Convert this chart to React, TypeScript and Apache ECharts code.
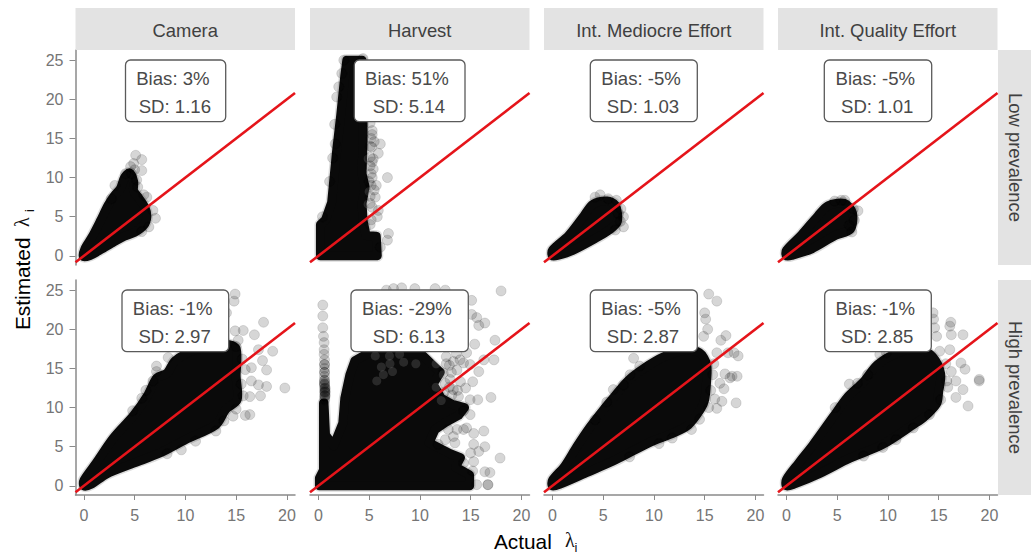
import React, { useEffect, useRef } from "react";
import * as echarts from "echarts";

type P = [number, number];

const columns = ["Camera", "Harvest", "Int. Mediocre Effort", "Int. Quality Effort"];
const rows = ["Low prevalence", "High prevalence"];
const tickValues = [0, 5, 10, 15, 20];
const yTickValues = [0, 5, 10, 15, 20, 25];
const identityLine: P[] = [[-0.83, -0.83], [20.8, 20.8]];

const biasLabels = [["Bias: 3%", "Bias: 51%", "Bias: -5%", "Bias: -5%"], ["Bias: -1%", "Bias: -29%", "Bias: -5%", "Bias: -1%"]];
const sdLabels = [["SD: 1.16", "SD: 5.14", "SD: 1.03", "SD: 1.01"], ["SD: 2.97", "SD: 6.13", "SD: 2.87", "SD: 2.85"]];

// Dense mass of overplotted points: outline (actual, estimated)
const cameraLowMass: P[] = [[-0.05,-0.1],[0.1,0.9],[0.8,2.4],[1.6,4.4],[2.4,6.5],[3.0,7.7],[3.6,8.6],[4.0,10],[4.5,10.6],[4.9,9.5],[4.9,8.3],[5.4,7.4],[6.0,6.2],[6.2,5.0],[5.9,3.9],[5.0,3.0],[3.8,2.4],[2.7,1.6],[1.4,0.6],[0.6,0.05]];
const harvestLowMass: P[] = [[0.2,0],[0.2,4],[0.7,4.6],[1.3,6.8],[1.8,13.5],[2.2,18],[2.6,23],[2.8,25],[4.3,25],[4.4,16.9],[4.4,14.8],[4.3,10.5],[4.6,8.8],[4.3,6.7],[4.4,4.5],[4.7,2.6],[5.7,2.5],[5.8,0]];
const mediocreLowMass: P[] = [[0,0],[0,0.7],[1.6,2.6],[3.1,5.1],[4,6.6],[5.4,7],[6.2,6.5],[6.4,4.4],[5.7,3.4],[4.2,2.2],[2,0.7],[0.5,0.05]];
const qualityLowMass: P[] = [[0,0],[0,0.7],[1.5,2.7],[3.1,5.1],[4.1,6.4],[5.7,6.7],[6.5,5.5],[6.3,3.4],[4.8,2.6],[2.5,0.9],[0.5,0.05]];
const cameraHighMass: P[] = [[0,0],[0,0.7],[1.2,2.9],[2.9,6.1],[4.9,9],[6.3,11.6],[7.2,13.8],[8.2,14.4],[9,16],[11,17.4],[14,18.1],[15,17.5],[15,14],[15.1,11],[14,9.8],[13,7.8],[10,5.9],[7.5,4.2],[4.9,2.9],[2.2,1.5],[0.7,0.2]];
const harvestHighMass: P[] = [[0.1,0],[0.1,1],[0.5,2],[0.5,10.6],[0.55,10.6],[0.7,6.5],[1.5,5.1],[2.4,8],[2.6,11.2],[3.1,14.2],[3.6,16],[5,17],[7,17],[10,17],[11.2,15.5],[12,14.5],[11.3,13],[12.1,11.2],[13.2,10.4],[14.4,10],[13.8,9],[12.5,8.1],[11.5,7.2],[10.9,5.5],[13,4.1],[14,3.6],[13.5,2.4],[14.9,1.4],[14.9,0]];
const mediocreHighMass: P[] = [[0,0],[0,0.7],[1.2,2.5],[2.4,5],[3.7,7.5],[5.2,10],[6.1,11.4],[7.5,13.5],[9,15],[11,16.5],[13,17.3],[14.5,17],[15.2,15.5],[15.2,13.5],[15,11],[14.6,9.8],[13.4,7.8],[12,6.8],[9.5,5.5],[6.2,3.3],[3.2,1.6],[0.7,0.2]];
const qualityHighMass: P[] = [[0,0],[0,0.8],[1.2,2.9],[2.6,5.2],[4.6,8.8],[6,11.3],[7.6,13.3],[9,15.5],[11,17],[13,17.5],[14.4,16.5],[15.2,14.3],[15,12],[14.8,10.5],[13.5,8.7],[12.6,7.9],[9.5,5.3],[6.2,3.5],[3.3,1.6],[0.7,0.2]];

// Individually visible points at the edge of each mass
const cameraLowPoints: P[] = [[5.1,12.85],[5.7,12.3],[4.9,11.8],[5.7,10.9],[4.1,10.5],[3.05,9],[6.2,7.5],[6.8,5.8],[7.05,4.8],[6.4,3.7],[5.7,3.1],[2.7,7.3],[4.7,10.5],[5.2,9.7],[5,11],[4.6,11.4],[5.3,8.8],[5.9,7.8]];
const harvestLowPoints: P[] = [[6.1,14.3],[5.9,13.1],[6.8,10],[5.7,9],[5.1,12.6],[5.25,13.9],[5.4,11.1],[5.6,7.5],[5.1,6.7],[5.9,5.8],[5.8,5],[6.9,2.85],[6.8,2],[6.1,1.1],[1.8,20.3],[1.65,14.3],[4.4,25.2],[2.5,25],[2.3,23.3],[2,21.6],[5.3,15.5],[5.1,17],[5.3,10],[5.5,8.4],[5.2,9],[5.4,12.4],[1.6,16.8],[1.4,12.5],[1.1,9.5],[0.4,5],[5.3,16],[5.2,15],[5.5,14.6],[5.1,14],[5.3,12],[5.1,11.5],[5.2,10.5],[5,9.5],[5.1,7.6],[5.3,6.2],[5.2,4.6],[5.1,4]];
const mediocreLowPoints: P[] = [[4.7,7.8],[4.2,7.5],[7,3.7],[7,5],[6.75,6],[6.3,7.1],[5.5,7.3],[6.5,5.4],[6.7,4.4],[6.2,3.3]];
const qualityLowPoints: P[] = [[7.05,5.75],[6.45,3.05],[5.75,7.1],[4.75,7],[6.7,4.55],[6.2,3.9],[6.6,6],[5.4,7.1]];
const cameraHighPoints: P[] = [[14.9,24.5],[14.8,23.6],[14.05,22.1],[15.7,19.85],[14.9,19.8],[17.7,20.9],[16.8,19.3],[18.6,17.2],[17.2,17.4],[17.6,16],[18,14.8],[16.5,15.1],[15.9,14.85],[18,12.7],[19.8,12.5],[16.5,13.4],[17.2,12.9],[17.4,11.5],[16.35,11.4],[16.35,9.1],[15.9,9],[9.6,4.6],[13,7],[14.7,8.9],[7.15,15.3],[7.15,14.6],[8.3,16.4],[6.8,13.4],[15,17.8],[15.2,18.6],[15.6,16.2],[15.5,13],[15.7,11.5],[15,9.8],[13.8,8.3],[11,5.7],[8.2,4.1],[4.8,9.6],[5.7,11.2],[6.1,12.2]];
const harvestHighPoints: P[] = [[6.7,25],[7.4,25.2],[8.2,25.3],[9.5,25.2],[11.5,25.2],[12.5,25],[15.1,23.7],[18,24.9],[15.1,21.9],[15.6,21.5],[15.8,20.5],[16.4,20.8],[15.4,18.1],[17.4,18.6],[16.3,16.1],[17.3,16.1],[15.8,14.6],[15.2,13.3],[14,13.3],[14.3,15.7],[14.95,15.5],[13.3,15.9],[13.95,16.1],[13.65,14.8],[12.97,13.6],[13.3,12.3],[13.15,11.6],[12.3,14.4],[14.95,11],[15.7,11],[17,11.3],[14.3,9.6],[14.95,9.1],[14.6,7.4],[14.3,7.2],[15.3,6.7],[16.3,7],[13.3,6.3],[12.5,5.9],[11.8,5.3],[15.3,5.3],[16.4,5],[15.8,4.4],[15,4.2],[17.9,3.55],[15.3,3.1],[14.3,2.9],[15.2,1.9],[16.4,1.8],[16.9,1.7],[16.7,0.15],[16.7,0.15],[15.6,0.15],[13.65,7.2],[12.8,7.2],[13.45,5.5],[12.5,13.1],[13.6,16.9],[14.6,17],[12.6,16.5],[12.9,15.4],[12.6,15.6],[13.1,14.5],[12.4,12],[12.9,12.6],[13.7,12.2],[14.5,12.5],[13.8,11.4],[0.43,23.1],[0.43,21.7],[0.43,20.2],[0.5,19.1],[0.56,18.3],[0.56,17.4],[0.56,16.8],[0.6,16.1],[0.6,15.5],[0.6,15],[0.6,14.5],[0.6,14],[0.6,13.5],[0.6,13],[0.65,12.5],[0.65,12],[0.65,11.5],[0.6,15.5],[0.6,14.5],[0.6,13.5],[0.6,13],[0.65,12.5],[0.65,12],[0.65,11.5],[0.6,13.2],[0.6,12.8],[0.65,12.2],[0.65,11.8],[0.62,11.2],[0.62,11],[0.62,11.5],[0.62,12.4],[0.62,12]];
const mediocreHighPoints: P[] = [[15.4,24.5],[16.2,23.6],[15,22.1],[15.1,21.3],[15.3,20],[14.9,19.1],[17.1,19.2],[16.6,18.6],[17.3,17],[18.3,16.6],[17.9,17],[16.2,17],[8,16.3],[7.65,14.2],[6,12.3],[5.35,10.7],[4.2,8.45],[18.2,14],[17.7,14],[17,14.3],[17.5,13.8],[16.5,13.1],[16.9,12.4],[16,11.1],[16.7,10.8],[16.2,9.9],[18.1,10.6],[13.7,7.2],[11.8,6.1],[15.9,15.6],[15.8,14.2],[15.6,12.2],[15.4,10],[14.5,8.5],[10.5,5.4],[7.6,3.7],[7,12.9],[8.6,15.3]];
const qualityHighPoints: P[] = [[14.45,22.1],[14.5,21.3],[14.6,20.2],[14.8,19.1],[16.2,20.9],[16.1,20.4],[16.25,19.3],[17.4,19.3],[16.1,17.4],[15.1,17.2],[17.6,14.9],[17.2,15.7],[19,13.6],[19,13.4],[17.4,12.3],[16.7,11.3],[17.9,10.2],[6.2,13],[4.8,10],[8,14.2],[12.5,7.4],[9.5,4.9],[16.7,13.4],[16.25,14.6],[14.1,9.1],[9.2,16.8],[9.85,17],[15.7,15.6],[15.9,12.6],[15.2,11],[15.8,13.4],[10.8,5.9],[7.6,3.8],[7,13.1]];

// Thin spots inside the mass where the background shows through
const harvestHighGaps: P[] = [[5.75,13.4],[6.4,14.2],[7.05,15.6],[8.4,15.8],[7.3,14.6],[6.2,15.2],[9.6,15.6],[7,16.6],[8,16.8],[5.6,16.6],[11.6,15.6],[12.3,14.2],[11.6,12.6],[12.1,10.9]];
const harvestLowGaps: P[] = [[4.9,6.6],[4.9,12.4],[5,8.2]];
const noGaps: P[] = [];

const masses = [[cameraLowMass, harvestLowMass, mediocreLowMass, qualityLowMass], [cameraHighMass, harvestHighMass, mediocreHighMass, qualityHighMass]];
const edgePoints = [[cameraLowPoints, harvestLowPoints, mediocreLowPoints, qualityLowPoints], [cameraHighPoints, harvestHighPoints, mediocreHighPoints, qualityHighPoints]];
const gaps = [[noGaps, harvestLowGaps, noGaps, noGaps], [noGaps, harvestHighGaps, noGaps, noGaps]];

// Layout
const colLeft = [75.5, 310, 544, 778];
const rowTop = [50, 280];
const panelW = 219.5;
const panelH = 215;
const boxX = [[125.5, 225.7], [354.3, 465], [590.3, 697.3], [824.3, 931.7]];
const boxXHigh = [[122, 228.7], [351, 468.3], [590.3, 697.3], [824.7, 931.3]];
const boxTop = [60, 290];
const BOX_H = 61.7;

const TEXT = "Liberation Sans, Arial, sans-serif";
const GREY = "#4a4a4a";

function buildOption() {
  const grid: any[] = [], xAxis: any[] = [], yAxis: any[] = [], series: any[] = [], graphic: any[] = [];
  rows.forEach((_, r) => columns.forEach((_, c) => {
    const i = grid.length;
    grid.push({ left: colLeft[c], top: rowTop[r], width: panelW, height: panelH, show: false });
    xAxis.push({
      gridIndex: i, type: "value", min: -0.83, max: 20.8, show: r === 1, splitLine: { show: false },
      axisLine: { show: true, onZero: false, lineStyle: { color: "#8a8a8a", width: 1.5 } },
      axisTick: { show: true, length: 5, customValues: tickValues, lineStyle: { color: "#8a8a8a" } },
      axisLabel: { customValues: tickValues, color: "#757575", fontFamily: TEXT, fontSize: 16, margin: 12 },
    });
    yAxis.push({
      gridIndex: i, type: "value", min: -1.17, max: 26.3, show: c === 0, splitLine: { show: false },
      axisLine: { show: true, onZero: false, lineStyle: { color: "#8a8a8a", width: 1.5 } },
      axisTick: { show: true, length: 6, customValues: yTickValues, lineStyle: { color: "#8a8a8a" } },
      axisLabel: { customValues: yTickValues, color: "#757575", fontFamily: TEXT, fontSize: 16, margin: 12 },
    });
    const outline = masses[r][c];
    const smooth = c === 1 ? 0 : 0.3;
    series.push({
      type: "custom", xAxisIndex: i, yAxisIndex: i, data: outline, silent: true, z: 3, clip: false,
      encode: { x: 0, y: 1 },
      renderItem: (p: any, api: any) => {
        if (p.dataIndex !== 0) return null;
        const points = outline.map((v: P) => api.coord(v));
        return {
          type: "group",
          children: [
            { type: "polygon", shape: { points, smooth }, style: { fill: "#0a0a0a", stroke: "rgba(0,0,0,0.14)", lineWidth: 12, lineJoin: "round" } },
            { type: "polygon", shape: { points, smooth }, style: { fill: "#0a0a0a", stroke: "#0a0a0a", lineWidth: 9, lineJoin: "round" } },
          ],
        };
      },
    });
    if (gaps[r][c].length) series.push({
      type: "scatter", xAxisIndex: i, yAxisIndex: i, data: gaps[r][c], symbolSize: 9, silent: true, z: 4,
      itemStyle: { color: "rgba(255,255,255,0.16)" },
    });
    series.push({
      type: "scatter", xAxisIndex: i, yAxisIndex: i, data: edgePoints[r][c], symbolSize: 10, silent: true, z: 4,
      itemStyle: { color: "rgba(0,0,0,0.2)", borderColor: "rgba(0,0,0,0.15)", borderWidth: 1 },
    });
    series.push({
      type: "line", xAxisIndex: i, yAxisIndex: i, data: identityLine, showSymbol: false, silent: true, z: 5, clip: false,
      lineStyle: { color: "#e5141a", width: 2.6 },
    });
    const [bl, br] = (r === 0 ? boxX : boxXHigh)[c];
    const cx = (bl + br) / 2;
    graphic.push({ type: "rect", z: 20, shape: { x: bl, y: boxTop[r], width: br - bl, height: BOX_H, r: 5 }, style: { fill: "#fff", stroke: "#5a5a5a", lineWidth: 1.3 } });
    graphic.push({ type: "text", z: 21, x: cx - 2.7, y: boxTop[r] + 18, style: { text: biasLabels[r][c], fontFamily: TEXT, fontSize: 18.6, fill: GREY, align: "center", verticalAlign: "middle" } });
    graphic.push({ type: "text", z: 21, x: cx - 0.8, y: boxTop[r] + 46, style: { text: sdLabels[r][c], fontFamily: TEXT, fontSize: 18.6, fill: GREY, align: "center", verticalAlign: "middle" } });
  }));

  columns.forEach((name, c) => {
    graphic.push({ type: "rect", z: 1, shape: { x: colLeft[c], y: 8, width: panelW, height: 42 }, style: { fill: "#e3e3e3" } });
    graphic.push({ type: "text", z: 2, x: colLeft[c] + panelW / 2, y: 30, style: { text: name, fontFamily: TEXT, fontSize: 18.4, fill: "#404040", align: "center", verticalAlign: "middle" } });
  });
  rows.forEach((name, r) => {
    graphic.push({ type: "rect", z: 1, shape: { x: 998, y: rowTop[r], width: 33, height: panelH }, style: { fill: "#e3e3e3" } });
    graphic.push({ type: "text", z: 2, x: 1015.5, y: rowTop[r] + panelH / 2, rotation: -Math.PI / 2, style: { text: name, fontFamily: TEXT, fontSize: 18.4, fill: "#404040", align: "center", verticalAlign: "middle" } });
  });

  const title = (o: any, z = 30) => graphic.push({ type: "text", z, ...o });
  title({ x: 494, y: 541, style: { text: "Actual", fontFamily: TEXT, fontSize: 20.8, fill: "#000", align: "left", verticalAlign: "middle" } });
  title({ x: 565, y: 540, style: { text: "λ", fontFamily: "Liberation Serif, serif", fontSize: 20, fill: "#111", align: "left", verticalAlign: "middle" } });
  title({ x: 574.5, y: 547, style: { text: "i", fontFamily: TEXT, fontSize: 13, fill: "#111", align: "left", verticalAlign: "middle" } });
  title({ x: 22, y: 330, rotation: Math.PI / 2, style: { text: "Estimated", fontFamily: TEXT, fontSize: 20.8, fill: "#000", align: "left", verticalAlign: "middle" } });
  title({ x: 22, y: 227, rotation: Math.PI / 2, style: { text: "λ", fontFamily: "Liberation Serif, serif", fontSize: 20, fill: "#111", align: "left", verticalAlign: "middle" } });
  title({ x: 29, y: 212, rotation: Math.PI / 2, style: { text: "i", fontFamily: TEXT, fontSize: 13, fill: "#111", align: "left", verticalAlign: "middle" } });

  return { animation: false, backgroundColor: "#fff", grid, xAxis, yAxis, series, graphic: { elements: graphic } };
}

export default function App() {
  const ref = useRef<HTMLDivElement>(null);
  useEffect(() => {
    const chart = echarts.init(ref.current!, undefined, { renderer: "svg" });
    chart.setOption(buildOption() as any);
    return () => chart.dispose();
  }, []);
  return <div ref={ref} style={{ position: "fixed", left: 0, top: 0, width: 1031, height: 556 }} />;
}
